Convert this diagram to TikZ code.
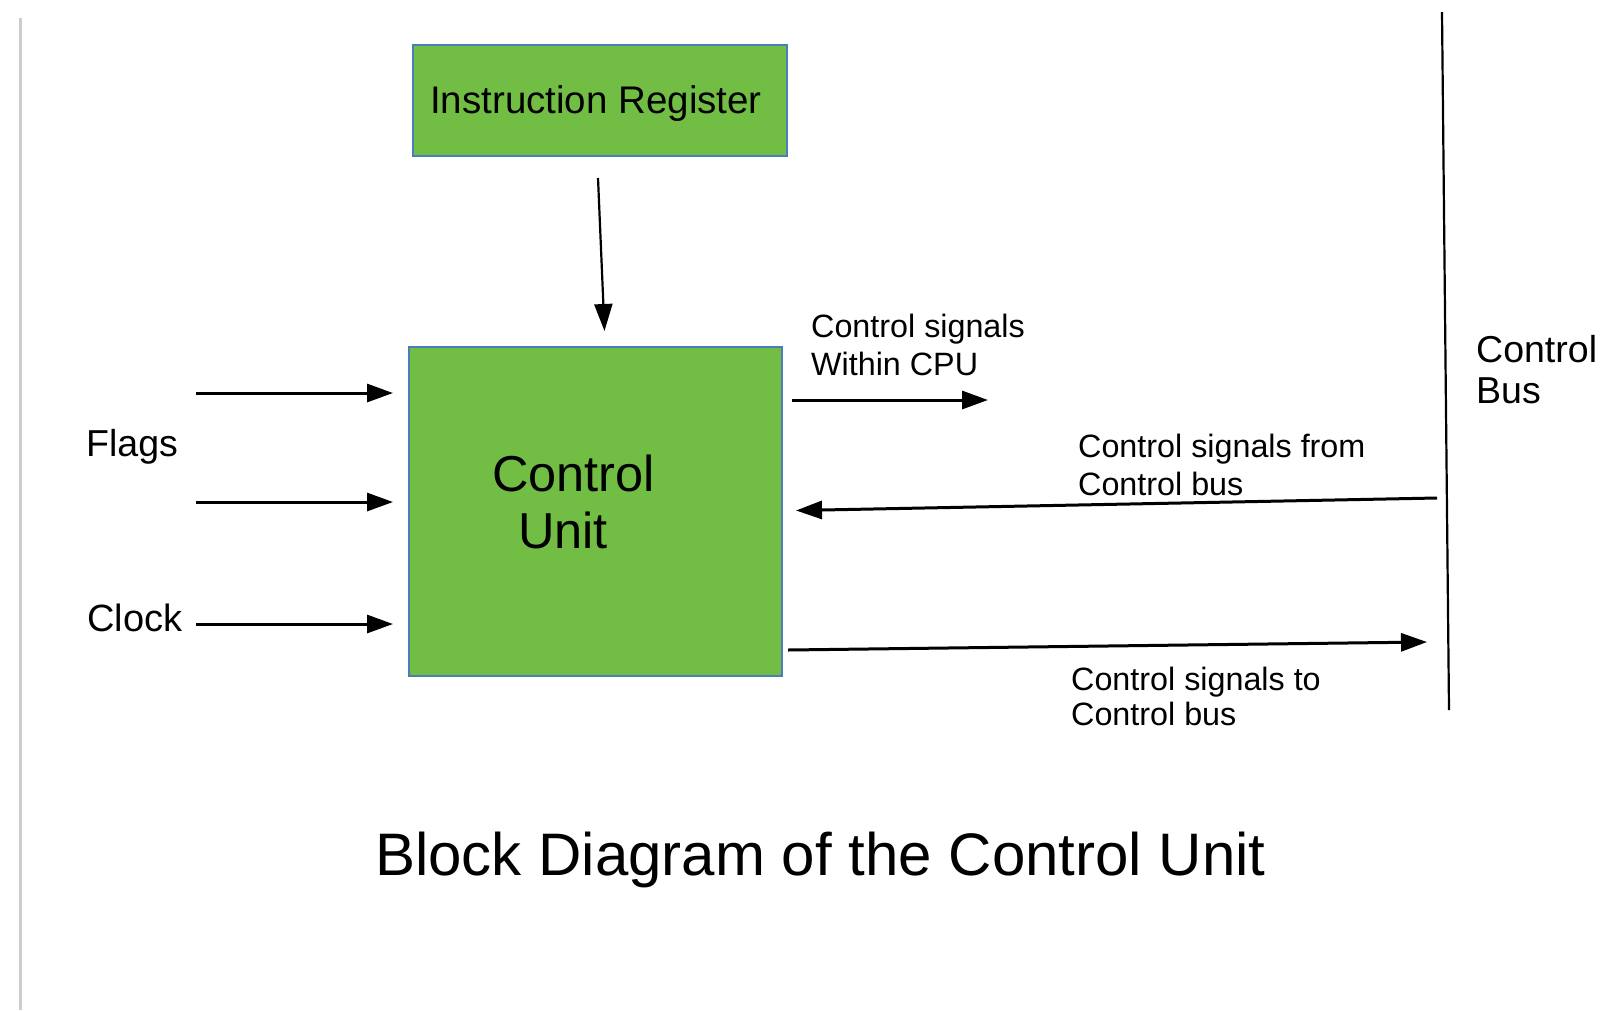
\documentclass[tikz,border=0pt]{standalone}
\usepackage{fontspec}
\setmainfont{Liberation Sans}
\usetikzlibrary{arrows.meta,calc}
\definecolor{boxgreen}{RGB}{114,190,68}
\definecolor{boxedge}{RGB}{74,126,187}
\definecolor{pagegrey}{RGB}{205,205,205}
\tikzset{
  block/.style={draw=boxedge, line width=2pt, fill=boxgreen, inner sep=0pt, anchor=north west},
  arr/.style={draw=black, line width=3pt, -{Triangle[length=26pt,width=18pt]}},
  thinarr/.style={draw=black, line width=2.2pt, -{Triangle[length=27pt,width=18pt]}},
  lbl/.style={inner sep=0pt, align=left, anchor=north west},
}
\begin{document}
\begin{tikzpicture}[x=1pt,y=-1pt]
\path[use as bounding box, fill=white] (0,0) rectangle (1604,1010);
% page edge line
\coordinate (pgtop) at (20,18);
\coordinate (pgbot) at (20,1010);
\draw[pagegrey, line width=3pt] (pgtop) -- (pgbot);

% blocks
\node[block, minimum width=374pt, minimum height=111pt] (ir) at (412,44) {};
\node[inner sep=0pt, anchor=base, font={\fontsize{38.5}{44}\selectfont}] (irtext) at (596,113) {Instruction Register};
\node[block, minimum width=373pt, minimum height=329pt] (cu) at (408,346) {};
\node[lbl, font={\fontsize{50.5}{57}\selectfont}] (cutext) at (492,455) {Control\\\hspace*{26pt}Unit};

% input labels
\node[inner sep=0pt, anchor=base west, font={\fontsize{37.5}{44}\selectfont}] (flags) at (86,456) {Flags};
\node[inner sep=0pt, anchor=base west, font={\fontsize{38}{44}\selectfont}] (clock) at (87,631) {Clock};

% inputs
\coordinate (f1) at (196,393);
\coordinate (f2) at (196,502);
\coordinate (ck) at (196,624);
\draw[arr, shorten >=15pt] (f1) -- (f1 -| cu.west);
\draw[arr, shorten >=15pt] (f2) -- (f2 -| cu.west);
\draw[arr, shorten >=15pt] (ck) -- (ck -| cu.west);

% IR to CU
\draw[thinarr] ($(ir.south)+(-2,21)$) -- ($(cu.north)+(9,-15)$);

% control bus
\coordinate (bustop) at (1442,12);
\coordinate (busbot) at (1449,710);
\draw[black, line width=2.2pt] (bustop) -- (busbot);
\node[lbl, font={\fontsize{37.5}{41}\selectfont}] (bus) at (1476,335) {Control\\Bus};

% within CPU
\coordinate (wc) at (988,400);
\draw[arr] ($(cu.east |- wc)+(9,0)$) -- (wc);
\node[lbl, font={\fontsize{32.3}{38}\selectfont}] (wclbl) at (811,314) {Control signals\\Within CPU};

% from control bus
\coordinate (fb) at (1437,498);
\draw[arr] (fb) -- ($(cu.east)+(13,-1)$);
\node[lbl, font={\fontsize{32.3}{38}\selectfont}] (fblbl) at (1078,434) {Control signals from\\Control bus};

% to control bus
\coordinate (tb) at (1427,642);
\draw[arr] ($(cu.east |- tb)+(5,8)$) -- (tb);
\node[lbl, font={\fontsize{32.3}{35}\selectfont}] (tblbl) at (1071,667) {Control signals to\\Control bus};

% title
\node[inner sep=0pt, anchor=base west, font={\fontsize{60}{70}\selectfont}] (title) at (375,875) {Block Diagram of the Control Unit};
\end{tikzpicture}
\end{document}
